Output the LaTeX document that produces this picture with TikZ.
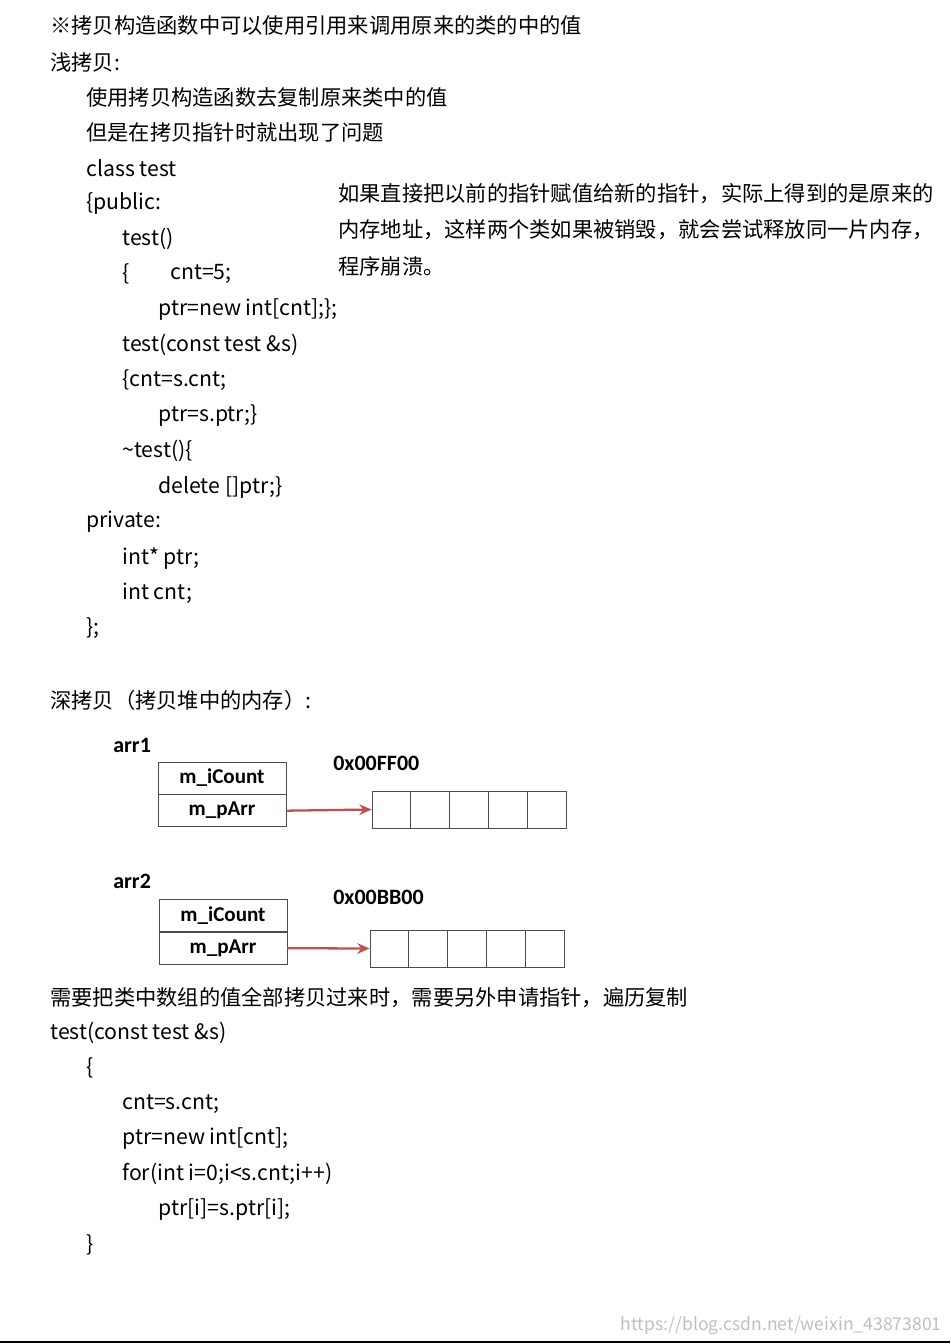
\documentclass[tikz,border=0pt]{standalone}
\usepackage{fontspec}
\setmainfont{Noto Sans CJK SC}
\newfontfamily\lblfont{Carlito}
\usetikzlibrary{arrows.meta,positioning}
\definecolor{arrColor}{HTML}{C0504D}
\tikzset{
	txt/.style={anchor=west,inner sep=0,font=\fontsize{12.1}{14}\selectfont},
	lbl/.style={anchor=west,inner sep=0,font=\lblfont\bfseries\fontsize{12.5}{14}\selectfont},
	fld/.style={draw=black!70,minimum width=2.56cm,minimum height=0.64cm,inner sep=0,
		font=\lblfont\bfseries\fontsize{12}{14}\selectfont},
	cell/.style={draw=black!70,minimum width=0.776cm,minimum height=0.74cm,inner sep=0},
	ptr/.style={-{Stealth[length=7pt,width=6pt]},arrColor,line width=1.3pt}
}
\begin{document}
\begin{tikzpicture}[x=0.02cm,y=-0.02cm]
	\useasboundingbox (0,0) rectangle (950,1344);
	% shallow copy
	\node[txt] (h1) at (50,25) {※拷贝构造函数中可以使用引用来调用原来的类的中的值};
	\node[txt] (h2) at (50,62) {浅拷贝:};
	\node[txt] (s1) at (86,97) {使用拷贝构造函数去复制原来类中的值};
	\node[txt] (s2) at (86,132) {但是在拷贝指针时就出现了问题};
	\node[txt] (c1) at (86,168) {class test};
	\node[txt] (c2) at (86,203) {\{public:};
	\node[txt] (c3) at (122,239) {test()};
	\node[txt] (c4) at (122,274) {\{};
	\node[txt] (c4b) at (170,274) {cnt=5;};
	\node[txt] (c5) at (158,310) {ptr=new int[cnt];\};};
	\node[txt] (c6) at (122,345) {test(const test \&s)};
	\node[txt] (c7) at (122,380) {\{cnt=s.cnt;};
	\node[txt] (c8) at (158,416) {ptr=s.ptr;\}};
	\node[txt] (c9) at (122,451) {\textasciitilde test()\{};
	\node[txt] (c10) at (158,487) {delete []ptr;\}};
	\node[txt] (c11) at (86,522) {private:};
	\node[txt] (c12) at (122,558) {int* ptr;};
	\node[txt] (c13) at (122,593) {int cnt;};
	\node[txt] (c14) at (86,628) {\};};
	\node[txt] (n1) at (338,194) {如果直接把以前的指针赋值给新的指针，实际上得到的是原来的};
	\node[txt] (n2) at (338,230) {内存地址，这样两个类如果被销毁，就会尝试释放同一片内存，};
	\node[txt] (n3) at (338,266) {程序崩溃。};
	% deep copy
	\node[txt] (h3) at (50,700) {深拷贝（拷贝堆中的内存）:};
	\node[lbl] (arr1) at (113,745) {arr1};
	\node[fld] (cnt1) at (222,778) {m\_iCount};
	\node[fld,below=0pt of cnt1] (pa1) {m\_pArr};
	\node[lbl] (ad1) at (333,763) {0x00FF00};
	\foreach \i in {0,...,4}
		\node[cell] (a\i) at (391.4+38.8*\i,809.5) {};
	\draw[ptr] (pa1.east) -- (a0.west);
	\node[lbl] (arr2) at (113,881) {arr2};
	\node[fld] (cnt2) at (223,915.5) {m\_iCount};
	\node[fld,below=0pt of cnt2] (pa2) {m\_pArr};
	\node[lbl] (ad2) at (333,897) {0x00BB00};
	\foreach \i in {0,...,4}
		\node[cell] (b\i) at (389.4+38.8*\i,948.5) {};
	\draw[ptr] (pa2.east) -- (b0.west);
	\node[txt] (d1) at (50,998) {需要把类中数组的值全部拷贝过来时，需要另外申请指针，遍历复制};
	\node[txt] (d2) at (50,1033) {test(const test \&s)};
	\node[txt] (d3) at (86,1068) {\{};
	\node[txt] (d4) at (122,1104) {cnt=s.cnt;};
	\node[txt] (d5) at (122,1139) {ptr=new int[cnt];};
	\node[txt] (d6) at (122,1174) {for(int i=0;i<s.cnt;i++)};
	\node[txt] (d7) at (158,1210) {ptr[i]=s.ptr[i];};
	\node[txt] (d8) at (86,1245) {\}};
	\node[anchor=east,inner sep=0,text=black!25,font=\fontsize{10}{12}\selectfont] (wm) at (942,1326) {https://blog.csdn.net/weixin\_43873801};
	\coordinate (bl) at (0,1342);
	\coordinate (br) at (950,1342);
	\draw[line width=1.2pt] (bl) -- (br);
\end{tikzpicture}
\end{document}
